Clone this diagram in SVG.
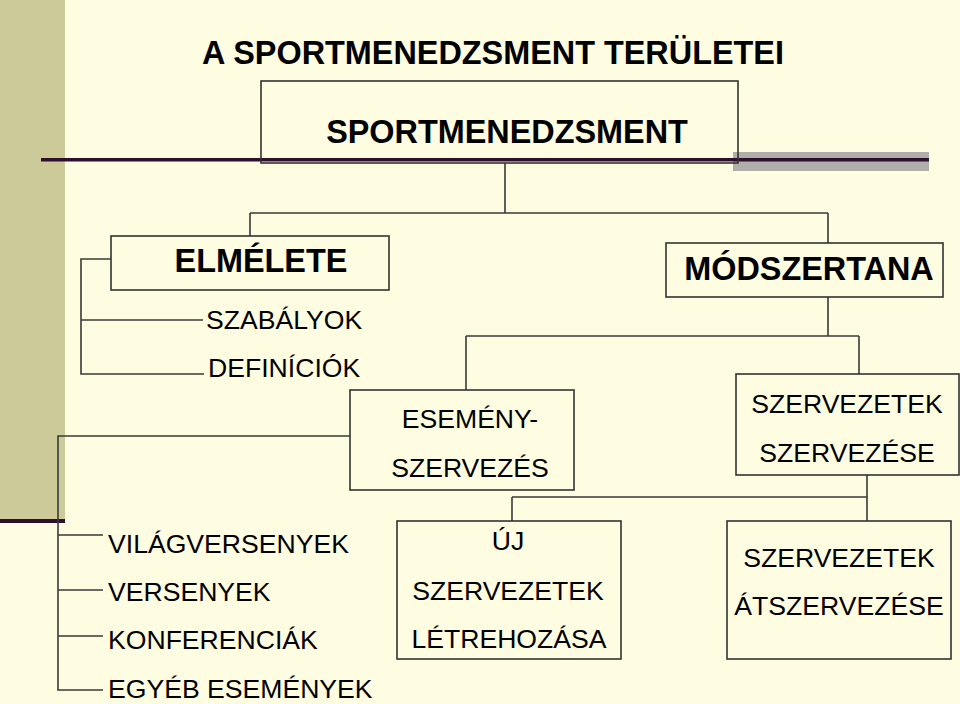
<svg xmlns="http://www.w3.org/2000/svg" width="960" height="704" viewBox="0 0 960 704">
<style>
.box{fill:none;stroke:#333;stroke-width:1.6}
.con{fill:none;stroke:#3a3a3a;stroke-width:1.6}
.t{font-family:"Liberation Sans",Arial,sans-serif;fill:#000}
.b{font-weight:bold;font-size:32.4px}
.r{font-size:26.6px}
.m{text-anchor:middle}
</style>
<rect x="0" y="0" width="960" height="704" fill="#FFFDE1"/>
<rect x="0" y="0" width="65" height="521" fill="#CDCA9A"/>
<rect x="0" y="519" width="65" height="4" fill="#2E0F2C"/>
<rect x="733" y="152" width="196" height="19" fill="#B0AEAA"/>
<rect x="41" y="158" width="888" height="3.5" fill="#2E0F2C"/>
<text class="t b m" x="493" y="64">A SPORTMENEDZSMENT TERÜLETEI</text>
<g id="connectors">
<path class="con" d="M505 163V213M250 213H828M250 213V236M828 213V243"/>
<path class="con" d="M111 259H81V374H204M81 320H203"/>
<path class="con" d="M828 297V336M466 336H859M466 336V390M859 336V374"/>
<path class="con" d="M350 436H58V690H103M58 535H103M58 590H103M58 636H103"/>
<path class="con" d="M867 475V521M512 497H867M512 497V521"/>
</g>
<g id="sportmenedzsment">
<rect class="box" x="261" y="81" width="477" height="82"/>
<text class="t b m" x="507" y="143">SPORTMENEDZSMENT</text>
</g>
<g id="elmelete">
<rect class="box" x="111" y="236" width="278" height="54"/>
<text class="t b m" x="261" y="272">ELMÉLETE</text>
</g>
<g id="szabalyok"><text class="t r" x="206" y="329">SZABÁLYOK</text></g>
<g id="definiciok"><text class="t r" x="208" y="377">DEFINÍCIÓK</text></g>
<g id="modszertana">
<rect class="box" x="666" y="243" width="277" height="54"/>
<text class="t b m" x="809" y="280">MÓDSZERTANA</text>
</g>
<g id="esemenyszervezes">
<rect class="box" x="350" y="390" width="224" height="100"/>
<text class="t r m" x="470" y="428">ESEMÉNY-</text>
<text class="t r m" x="470" y="477">SZERVEZÉS</text>
</g>
<g id="szervezetek-szervezese">
<rect class="box" x="736" y="374" width="223" height="101"/>
<text class="t r m" x="847" y="413">SZERVEZETEK</text>
<text class="t r m" x="847" y="462">SZERVEZÉSE</text>
</g>
<g id="vilagversenyek"><text class="t r" x="108" y="553">VILÁGVERSENYEK</text></g>
<g id="versenyek"><text class="t r" x="108" y="601">VERSENYEK</text></g>
<g id="konferenciak"><text class="t r" x="108" y="649">KONFERENCIÁK</text></g>
<g id="egyeb"><text class="t r" x="108" y="698">EGYÉB ESEMÉNYEK</text></g>
<g id="uj-szervezetek">
<rect class="box" x="397" y="521" width="224" height="138"/>
<text class="t r m" x="508" y="550">ÚJ</text>
<text class="t r m" x="508" y="600">SZERVEZETEK</text>
<text class="t r m" x="509" y="648">LÉTREHOZÁSA</text>
</g>
<g id="atszervezese">
<rect class="box" x="727" y="521" width="224" height="138"/>
<text class="t r m" x="839" y="567">SZERVEZETEK</text>
<text class="t r m" x="839" y="615">ÁTSZERVEZÉSE</text>
</g>
</svg>
